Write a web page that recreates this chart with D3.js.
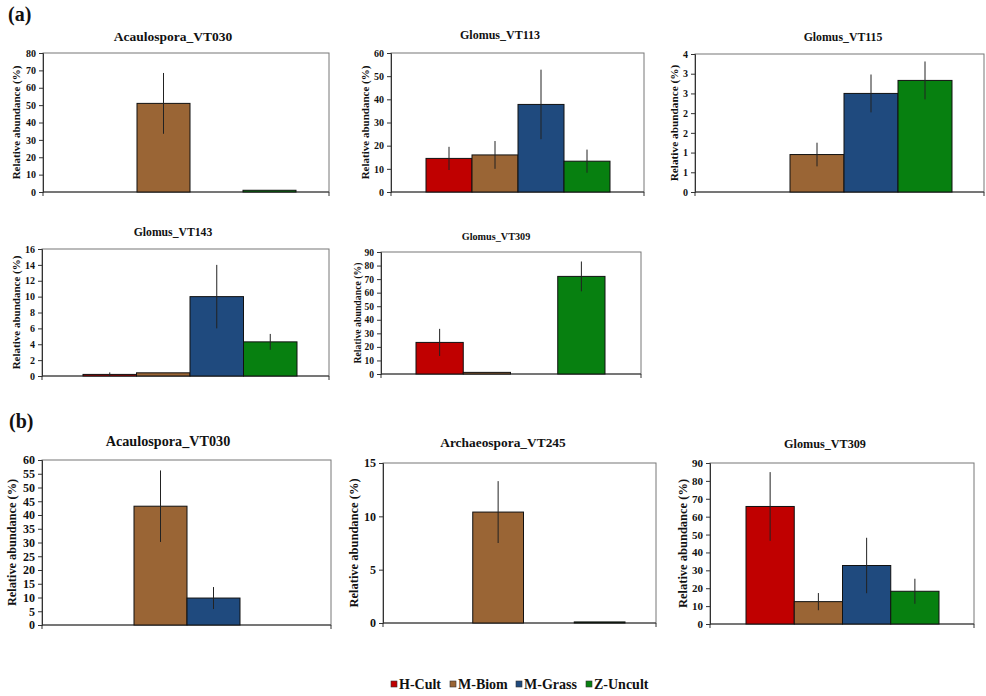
<!DOCTYPE html>
<html>
<head>
<meta charset="utf-8">
<script src="https://cdn.jsdelivr.net/npm/d3@7"></script>
<style>
  html, body { margin: 0; padding: 0; background: #fff; }
  svg { display: block; }
  svg text { font-family: "Liberation Serif", Times, "DejaVu Serif", serif !important; font-weight: bold; fill: #111; }
</style>
</head>
<body>
<script>
// Treatment groups and their fill colours (same order in every panel)
const groups = ["H-Cult", "M-Biom", "M-Grass", "Z-Uncult"];
const groupColors = ["#c00000", "#9a6535", "#1f4a7e", "#078010"];

// Panel titles
const titles = [
  "Acaulospora_VT030", "Glomus_VT113", "Glomus_VT115", "Glomus_VT143", "Glomus_VT309",
  "Acaulospora_VT030", "Archaeospora_VT245", "Glomus_VT309"
];

// Mean relative abundance (%) per panel, in group order
const means = [
  [0, 51, 0, 1],
  [14.5, 16, 37.8, 13.3],
  [0, 0.95, 2.5, 2.83],
  [0.2, 0.4, 10, 4.3],
  [23.3, 1.2, 0, 72],
  [0, 43.2, 9.8, 0],
  [0, 10.4, 0, 0.1],
  [65.7, 12.5, 32.7, 18.3]
];

// Standard errors drawn as vertical whiskers
const errors = [
  [0, 17.5, 0, 0],
  [5, 6, 15, 5],
  [0, 0.3, 0.48, 0.48],
  [0.25, 0, 4, 1],
  [10, 0, 0, 11],
  [0, 13, 4, 0],
  [0, 2.9, 0, 0],
  [19.2, 4.8, 15.5, 7]
];

// Y axis maximum and tick step per panel
const yMax  = [80, 60, 3.5, 16, 90, 60, 15, 90];
const yStep = [10, 10, 0.5, 2, 10, 5, 5, 10];

const yLabel = "Relative abundance (%)";

// Plot-area geometry for each panel (ts: title size, ks: tick size, ls: axis-label size)
const layout = [
  {x0: 43,  x1: 329, y0: 53,  y1: 192, bx0: 84,  bx1: 296, lx: 16,  tx: 173, ty: 41,  ts: 13.5, ks: 10,  ls: 11},
  {x0: 391, x1: 644, y0: 53,  y1: 192, bx0: 426, bx1: 610, lx: 365, tx: 500, ty: 39,  ts: 12,   ks: 10,  ls: 11},
  {x0: 695, x1: 984, y0: 54,  y1: 192, bx0: 736, bx1: 952, lx: 674, tx: 843, ty: 41,  ts: 11.8, ks: 10,  ls: 11.3},
  {x0: 42,  x1: 329, y0: 249, y1: 376, bx0: 83,  bx1: 297, lx: 16,  tx: 173, ty: 236, ts: 11.7, ks: 10,  ls: 11},
  {x0: 381, x1: 641, y0: 252, y1: 374, bx0: 416, bx1: 605, lx: 358, tx: 496, ty: 240, ts: 10.2, ks: 9.5, ls: 9.8},
  {x0: 42,  x1: 331, y0: 460, y1: 625, bx0: 81,  bx1: 293, lx: 12,  tx: 168, ty: 446, ts: 14.2, ks: 12,  ls: 12.3},
  {x0: 383, x1: 656, y0: 463, y1: 623, bx0: 422, bx1: 625, lx: 354, tx: 503, ty: 447, ts: 13.4, ks: 12,  ls: 12.5},
  {x0: 710, x1: 974, y0: 463, y1: 624, bx0: 746, bx1: 939, lx: 683, tx: 825, ty: 448, ts: 12.2, ks: 11,  ls: 12.5}
];

const FONT = '"Liberation Serif", Times, "DejaVu Serif", serif';

const svg = d3.select("body").append("svg")
  .attr("width", 986).attr("height", 696)
  .attr("font-family", FONT)
  .style("background", "#fff");

svg.append("text").attr("x", 8).attr("y", 21).style("font-size", "20px").text("(a)");
svg.append("text").attr("x", 9).attr("y", 428).style("font-size", "20px").text("(b)");

layout.forEach((L, i) => {
  const g = svg.append("g");
  const x = d3.scaleBand().domain(groups).range([L.bx0, L.bx1]).padding(0);
  const y = d3.scaleLinear().domain([0, yMax[i]]).range([L.y1, L.y0]);
  const ticks = d3.range(0, yMax[i] + yStep[i] / 2, yStep[i]);

  // plot-area frame
  g.append("rect")
    .attr("x", L.x0).attr("y", L.y0)
    .attr("width", L.x1 - L.x0).attr("height", L.y1 - L.y0)
    .attr("fill", "#fff").attr("stroke", "#777").attr("stroke-width", 1);

  // y axis
  const yAxis = d3.axisLeft(y).tickValues(ticks).tickSizeOuter(0).tickSize(4).tickPadding(3)
    .tickFormat(d => String(Math.round(d)));
  const ya = g.append("g").attr("transform", `translate(${L.x0},0)`).call(yAxis)
    .attr("font-family", FONT).attr("font-size", L.ks);
  ya.select(".domain").attr("stroke", "#333");
  ya.selectAll(".tick line").attr("stroke", "#333");
  ya.selectAll(".tick text")
    .style("font-size", L.ks + "px")
    .style("font-weight", "bold").attr("fill", "#111");

  // category axis line with end ticks
  g.append("line").attr("x1", L.x0).attr("x2", L.x1).attr("y1", L.y1).attr("y2", L.y1)
    .attr("stroke", "#333");
  [L.x0, L.x1].forEach(xx => g.append("line")
    .attr("x1", xx).attr("x2", xx).attr("y1", L.y1).attr("y2", L.y1 + 4).attr("stroke", "#333"));

  // bars
  const rows = groups.map((k, j) => ({k, v: means[i][j], e: errors[i][j], c: groupColors[j]}))
    .filter(d => d.v > 0);
  g.selectAll("rect.bar").data(rows).join("rect").attr("class", "bar")
    .attr("x", d => x(d.k)).attr("width", x.bandwidth())
    .attr("y", d => y(d.v)).attr("height", d => y(0) - y(d.v))
    .attr("fill", d => d.c).attr("stroke", "#111").attr("stroke-width", 1);

  // error whiskers
  g.selectAll("line.err").data(rows.filter(d => d.e > 0)).join("line").attr("class", "err")
    .attr("x1", d => x(d.k) + x.bandwidth() / 2).attr("x2", d => x(d.k) + x.bandwidth() / 2)
    .attr("y1", d => y(d.v + d.e)).attr("y2", d => y(Math.max(0, d.v - d.e)))
    .attr("stroke", "#222").attr("stroke-width", 1);

  // title
  g.append("text").attr("x", L.tx).attr("y", L.ty).attr("text-anchor", "middle")
    .style("font-size", L.ts + "px").text(titles[i]);

  // y label
  g.append("text")
    .attr("transform", `translate(${L.lx},${(L.y0 + L.y1) / 2}) rotate(-90)`)
    .attr("text-anchor", "middle").attr("dy", "0.35em")
    .style("font-size", L.ls + "px").text(yLabel);
});

// legend
const legendX = [391, 450, 516, 586];
const lg = svg.append("g").attr("transform", "translate(0,685)");
groups.forEach((k, j) => {
  lg.append("rect").attr("x", legendX[j]).attr("y", -4).attr("width", 6).attr("height", 6)
    .attr("fill", groupColors[j]).attr("stroke", "#333").attr("stroke-width", 0.6);
  lg.append("text").attr("x", legendX[j] + 8).attr("y", 4)
    .style("font-size", "14px").text(k);
});
</script>
</body>
</html>
